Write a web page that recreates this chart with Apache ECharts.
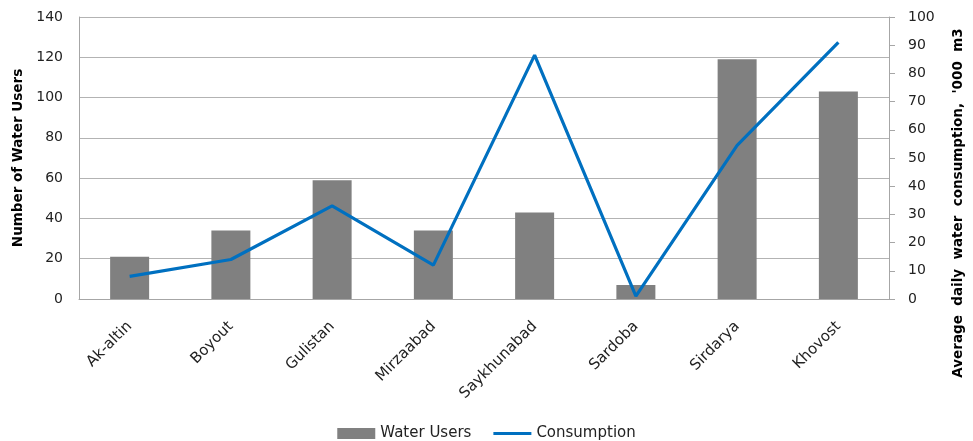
<!DOCTYPE html>
<html>
<head>
<meta charset="utf-8">
<script src="https://cdn.jsdelivr.net/npm/echarts@6/dist/echarts.min.js"></script>
<style>html,body{margin:0;padding:0;background:#fff}#c{width:973px;height:441px}</style>
</head>
<body>
<div id="c"></div>
<script>
const categories = ['Ak-altin','Boyout','Gulistan','Mirzaabad','Saykhunabad','Sardoba','Sirdarya','Khovost'];
const waterUsers = [21, 34, 59, 34, 43, 7, 119, 103];
const consumption = [8, 14, 33, 12, 86.5, 1, 54.5, 91];
const leftTicks = {min: 0, max: 140, interval: 20};
const rightTicks = {min: 0, max: 100, interval: 10};

const chart = echarts.init(document.getElementById('c'));
const font = 'DejaVu Sans';
chart.setOption({
  animation: false,
  textStyle: {fontFamily: font},
  grid: {left: 79, right: 77, top: 17, bottom: 142, containLabel: false},
  legend: {
    top: 421, left: 'center', itemWidth: 38, itemHeight: 11, itemGap: 22,
    textStyle: {fontFamily: font, fontSize: 15, color: '#222'},
    data: [
      {name: 'Water Users', icon: 'rect'},
      {name: 'Consumption', icon: 'path://M0,0 L38,0 L38,3 L0,3 Z'}
    ]
  },
  xAxis: {
    type: 'category', data: categories,
    axisLine: {lineStyle: {color: '#a6a6a6', width: 1}},
    axisTick: {show: false},
    axisLabel: {rotate: 45, fontSize: 15, color: '#222', margin: 25, interval: 0}
  },
  yAxis: [
    {
      type: 'value', min: leftTicks.min, max: leftTicks.max, interval: leftTicks.interval,
      name: 'Number of Water Users', nameLocation: 'middle', nameGap: 52,
      nameTextStyle: {fontFamily: font, fontSize: 13.5, fontWeight: 'bold', color: '#000'},
      axisLine: {show: true, lineStyle: {color: '#a6a6a6'}},
      axisTick: {show: false},
      axisLabel: {fontSize: 14, color: '#222', margin: 16},
      splitLine: {lineStyle: {color: '#b3b3b3', width: 1}}
    },
    {
      type: 'value', min: rightTicks.min, max: rightTicks.max, interval: rightTicks.interval,
      position: 'right',
      name: "Average  daily  water  consumption,  '000  m3", nameLocation: 'middle', nameGap: 62,
      nameTextStyle: {fontFamily: font, fontSize: 13.5, fontWeight: 'bold', color: '#000', padding: [0, 90, 0, 0]},
      axisLine: {show: true, lineStyle: {color: '#a6a6a6'}},
      axisTick: {show: true, inside: false, length: 6, lineStyle: {color: '#a6a6a6'}},
      axisLabel: {fontSize: 14, color: '#222', margin: 19},
      splitLine: {show: false}
    }
  ],
  series: [
    {
      name: 'Water Users', type: 'bar', data: waterUsers, yAxisIndex: 0,
      barWidth: 39, itemStyle: {color: '#808080'}
    },
    {
      name: 'Consumption', type: 'line', data: consumption, yAxisIndex: 1,
      symbol: 'none', lineStyle: {color: '#0070c0', width: 3.2}, itemStyle: {color: '#0070c0'}
    }
  ]
});
</script>
</body>
</html>
